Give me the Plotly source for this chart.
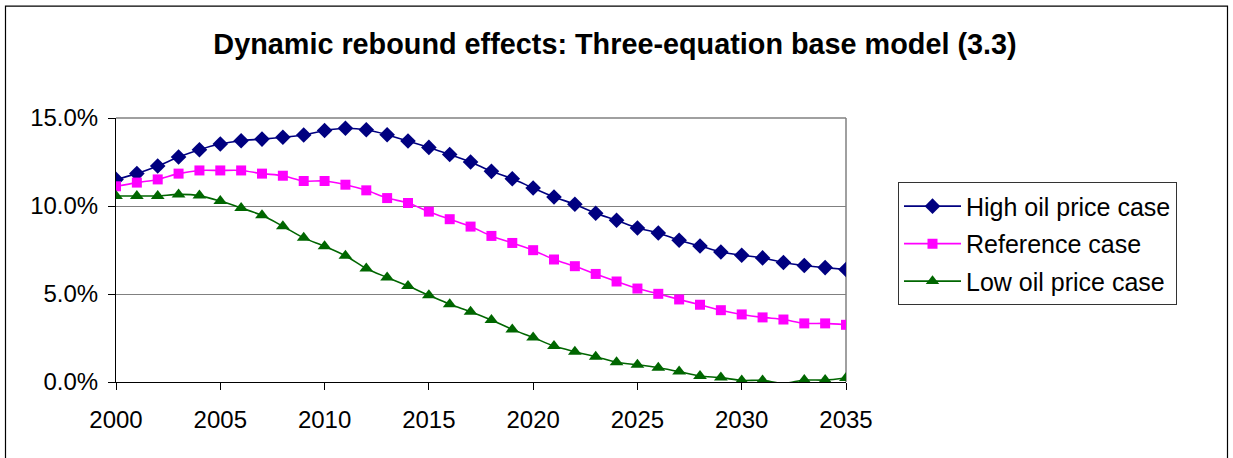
import plotly.graph_objects as go

# Years on the horizontal axis
years = list(range(2000, 2036))

# Dynamic rebound effect (%) for each scenario
high_oil = [11.51, 11.84, 12.27, 12.78, 13.20, 13.52, 13.71, 13.80, 13.91, 14.03,
            14.29, 14.42, 14.33, 14.05, 13.69, 13.33, 12.93, 12.50, 11.97, 11.55,
            11.02, 10.51, 10.10, 9.59, 9.19, 8.75, 8.47, 8.05, 7.73, 7.39,
            7.20, 7.05, 6.79, 6.62, 6.50, 6.39]
reference = [11.12, 11.33, 11.51, 11.84, 12.02, 12.02, 12.02, 11.84, 11.72, 11.42,
             11.42, 11.21, 10.89, 10.45, 10.17, 9.68, 9.25, 8.83, 8.30, 7.90,
             7.49, 6.96, 6.58, 6.14, 5.71, 5.31, 5.01, 4.69, 4.39, 4.08,
             3.84, 3.67, 3.55, 3.33, 3.33, 3.25]
low_oil = [10.57, 10.57, 10.57, 10.66, 10.59, 10.28, 9.89, 9.47, 8.85, 8.19,
           7.71, 7.17, 6.45, 5.94, 5.45, 4.93, 4.42, 3.99, 3.52, 2.99,
           2.53, 2.04, 1.72, 1.44, 1.12, 0.98, 0.81, 0.59, 0.34, 0.25,
           0.09, 0.09, -0.08, 0.11, 0.11, 0.23]

series_names = ["High oil price case", "Reference case", "Low oil price case"]
y_ticks = [0, 5, 10, 15]
x_ticks = [2000, 2005, 2010, 2015, 2020, 2025, 2030, 2035]

FONT = "Liberation Sans, Arial, sans-serif"
W, H = 1233, 458
L, R, T, B = 116, 387, 117.5, 76
PW, PH = W - L - R, H - T - B


def px_x(px):
    return (px - L) / PW


def px_y(py):
    return (H - B - py) / PH


def marker_sizes(values, size):
    # points below the axis minimum are not marked
    return [size if v >= 0 else 0 for v in values]


styles = [
    (high_oil, "#000080", "diamond", 12),
    (reference, "#FF00FF", "square", 10),
    (low_oil, "#006600", "triangle-up", 12),
]

fig = go.Figure()
for i, (name, (vals, color, symbol, size)) in enumerate(zip(series_names, styles)):
    fig.add_trace(go.Scatter(
        x=years, y=vals, name=name, mode="lines+markers",
        legendgroup=f"g{i}",
        line=dict(color=color, width=1.6, shape="spline", smoothing=0.8),
        marker=dict(symbol=symbol, size=marker_sizes(vals, size), color=color,
                    opacity=1, line=dict(width=0)),
    ))

fig.update_layout(
    width=W, height=H,
    margin=dict(l=L, r=R, t=T, b=B, pad=0),
    paper_bgcolor="white", plot_bgcolor="white",
    font=dict(family=FONT, size=24, color="black"),
    title=dict(text="<b>Dynamic rebound effects: Three-equation base model (3.3)</b>",
               font=dict(family=FONT, size=28.8, color="black"),
               xref="container", x=615 / W, xanchor="center",
               yref="container", y=1 - 44 / H, yanchor="middle"),
    showlegend=True,
    legend=dict(x=px_x(898), y=px_y(182), xanchor="left", yanchor="top",
                bgcolor="white", bordercolor="#333333", borderwidth=1,
                font=dict(family=FONT, size=25, color="black"),
                traceorder="grouped", tracegroupgap=2, itemwidth=57),
    xaxis=dict(range=[2000, 2035], tickvals=x_ticks, ticktext=[str(t) for t in x_ticks],
               showgrid=False, zeroline=False,
               showline=True, linecolor="black", linewidth=1,
               ticks="outside", ticklen=7, tickcolor="black", tickwidth=1,
               ticklabelstandoff=9),
    yaxis=dict(range=[0, 15], tickvals=y_ticks, ticktext=[f"{v:.1f}%" for v in y_ticks],
               showgrid=True, gridcolor="#808080", gridwidth=1, zeroline=False,
               showline=True, linecolor="black", linewidth=1,
               ticks="outside", ticklen=7, tickcolor="black", tickwidth=1,
               ticklabelstandoff=5),
    shapes=[
        # plot-area frame on the top and right
        dict(type="line", xref="paper", yref="paper", x0=0, x1=1, y0=1, y1=1,
             line=dict(color="#808080", width=1.5), layer="below"),
        dict(type="line", xref="paper", yref="paper", x0=1, x1=1, y0=0, y1=1,
             line=dict(color="#808080", width=1.5), layer="below"),
        # chart border
        dict(type="rect", xref="paper", yref="paper",
             x0=px_x(5.5), x1=px_x(1227.5), y0=px_y(470), y1=px_y(5.5),
             line=dict(color="black", width=1.2), fillcolor="rgba(0,0,0,0)"),
    ],
)

fig.write_html("out.html")
